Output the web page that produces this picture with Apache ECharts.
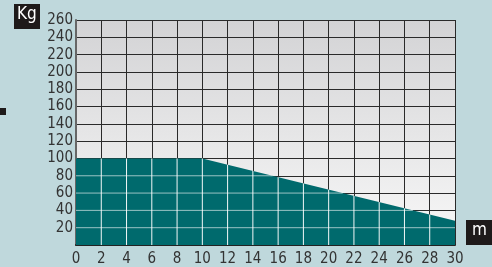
<!DOCTYPE html>
<html>
<head>
<meta charset="UTF-8">
<script src="https://cdn.jsdelivr.net/npm/echarts@6/dist/echarts.min.js"></script>
<style>
  html, body { margin: 0; padding: 0; background: #bfd8dc; }
  #main { width: 492px; height: 267px; }
</style>
</head>
<body>
<div id="main"></div>
<script>
  // load capacity vs distance
  var distX = [0, 10, 30];
  var loadKg = [100, 100, 28];
  var xTicks = [0, 2, 4, 6, 8, 10, 12, 14, 16, 18, 20, 22, 24, 26, 28, 30];
  var yTicks = [20, 40, 60, 80, 100, 120, 140, 160, 180, 200, 220, 240, 260];

  var font = '"Liberation Sans Narrow", "DejaVu Sans Condensed", sans-serif';

  // load at a given distance along the curve
  function loadAt(x) {
    for (var i = 1; i < distX.length; i++) {
      if (x <= distX[i]) {
        var t = (x - distX[i - 1]) / (distX[i] - distX[i - 1]);
        return loadKg[i - 1] + t * (loadKg[i] - loadKg[i - 1]);
      }
    }
    return loadKg[loadKg.length - 1];
  }
  function distAt(v) {
    for (var i = 1; i < distX.length; i++) {
      var a = loadKg[i - 1], b = loadKg[i];
      if ((v <= a && v >= b) && a !== b) {
        return distX[i - 1] + (a - v) / (a - b) * (distX[i] - distX[i - 1]);
      }
    }
    return distX[distX.length - 1];
  }

  var myChart = echarts.init(document.getElementById('main'));
  var option = {
    backgroundColor: '#bfd8dc',
    animation: false,
    grid: {
      left: 76, right: 37, top: 20, bottom: 21,
      show: true,
      borderWidth: 0,
      backgroundColor: new echarts.graphic.LinearGradient(0, 0, 0, 1, [
        { offset: 0, color: '#d3d3d5' },
        { offset: 1, color: '#f8f8f8' }
      ])
    },
    xAxis: {
      type: 'value', min: 0, max: 30, interval: 2,
      axisLine: { show: true, lineStyle: { color: '#222', width: 2 } },
      axisTick: { show: false },
      axisLabel: { color: '#333', fontFamily: font, fontSize: 15, margin: 7 },
      splitLine: { show: true, lineStyle: { color: '#2a2a2a', width: 1 } }
    },
    yAxis: {
      type: 'value', min: 0, max: 260, interval: 20,
      axisLine: { show: true, lineStyle: { color: '#666', width: 2 } },
      axisTick: { show: false },
      axisLabel: { color: '#333', fontFamily: font, fontSize: 15, margin: 3, showMinLabel: false },
      splitLine: { show: true, lineStyle: { color: '#2a2a2a', width: 1 } }
    },
    series: [
      {
        type: 'line',
        data: distX.map(function (x, i) { return [x, loadKg[i]]; }),
        symbol: 'none',
        lineStyle: { width: 0 },
        areaStyle: { color: '#006a6d', opacity: 1, origin: 'start' },
        z: 2
      },
      {
        type: 'custom',
        z: 3,
        silent: true,
        data: [0],
        renderItem: function (params, api) {
          var children = [];
          xTicks.forEach(function (x) {
            if (x === 0 || x === 30) return;
            var p0 = api.coord([x, 0]);
            var p1 = api.coord([x, loadAt(x)]);
            children.push({ type: 'line', shape: { x1: p0[0], y1: p0[1], x2: p1[0], y2: p1[1] },
              style: { stroke: 'rgba(255,255,255,0.95)', lineWidth: 1 } });
          });
          yTicks.forEach(function (v) {
            if (v >= 100) return;
            var p0 = api.coord([0, v]);
            var p1 = api.coord([distAt(v), v]);
            children.push({ type: 'line', shape: { x1: p0[0], y1: p0[1], x2: p1[0], y2: p1[1] },
              style: { stroke: 'rgba(255,255,255,0.6)', lineWidth: 1 } });
          });
          return { type: 'group', children: children };
        }
      }
    ],
    graphic: [
      { type: 'rect', left: 14, top: 4, shape: { width: 26, height: 25 }, style: { fill: '#1e1a1a' } },
      { type: 'text', left: 17, top: 6, style: { text: 'Kg', fill: '#fff', font: '17px ' + font } },
      { type: 'rect', left: 466, top: 220, shape: { width: 26, height: 25 }, style: { fill: '#1e1a1a' } },
      { type: 'text', left: 472, top: 222, style: { text: 'm', fill: '#fff', font: '17px ' + font } },
      { type: 'rect', left: 0, top: 108, shape: { width: 6, height: 7 }, style: { fill: '#1e1a1a' } }
    ]
  };
  myChart.setOption(option);
</script>
</body>
</html>
